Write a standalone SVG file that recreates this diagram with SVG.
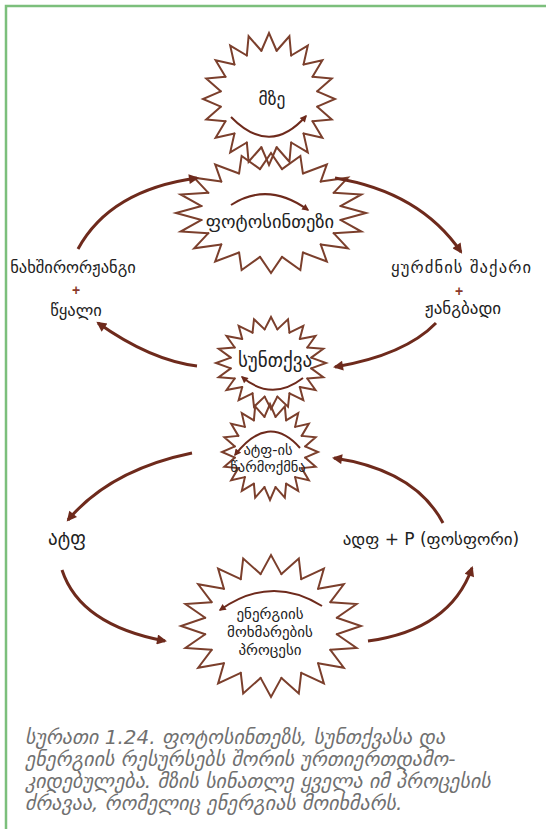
<svg xmlns="http://www.w3.org/2000/svg" xmlns:xlink="http://www.w3.org/1999/xlink" width="546" height="829" viewBox="0 0 546 829">
<style>
.lbl{font-family:"DejaVu Sans","Noto Sans",sans-serif;fill:#222;text-anchor:middle}
.plus{font-family:"Liberation Sans",sans-serif;fill:#8b3a2a;font-weight:bold;text-anchor:middle;font-size:14px}
.cap{font-family:"DejaVu Sans","Noto Sans",sans-serif;font-style:italic;fill:#707070;font-size:20px}
.arr{fill:none;stroke:#6e2a1c;stroke-width:3;marker-end:url(#ah)}
.arc{fill:none;stroke:#6e2a1c;stroke-width:2;marker-end:url(#ahs)}
</style>
<defs>
<marker id="ah" viewBox="0 0 10 10" refX="8" refY="5" markerUnits="userSpaceOnUse" markerWidth="15" markerHeight="10" orient="auto"><path d="M0,0 L10,5 L0,10 Z" fill="#6e2a1c"/></marker>
<marker id="ahs" viewBox="0 0 10 10" refX="8" refY="5" markerUnits="userSpaceOnUse" markerWidth="10" markerHeight="7" orient="auto"><path d="M0,0 L10,5 L0,10 Z" fill="#6e2a1c"/></marker>
<polyline id="sp" points="-0.1157,-0.7309 0,-1 0.1157,-0.7309" fill="none" stroke="#7b3f2c" stroke-width="2" stroke-linecap="round" stroke-linejoin="miter" vector-effect="non-scaling-stroke"/>
<g id="sp4"><use xlink:href="#sp"/><use xlink:href="#sp" transform="rotate(18)"/><use xlink:href="#sp" transform="rotate(36)"/><use xlink:href="#sp" transform="rotate(54)"/></g>
<g id="star"><use xlink:href="#sp4"/><use xlink:href="#sp4" transform="rotate(72)"/><use xlink:href="#sp4" transform="rotate(144)"/><use xlink:href="#sp4" transform="rotate(216)"/><use xlink:href="#sp4" transform="rotate(288)"/></g>
</defs>
<rect width="546" height="829" fill="#fff"/>
<g id="border" fill="none" stroke="#7cbf7c" stroke-width="2.5"><path d="M6,829 V6 H546"/></g>

<g id="sun"><use xlink:href="#star" transform="translate(269,99) scale(66,66)"/><text class="lbl" x="272" y="105" font-size="17.5">მზე</text></g>
<g id="photosynthesis"><use xlink:href="#star" transform="translate(271,213) scale(95,60)"/><text class="lbl" x="270" y="228" font-size="18.5">ფოტოსინთეზი</text></g>
<g id="respiration"><use xlink:href="#star" transform="translate(271,363) scale(55,46)"/><text class="lbl" x="275" y="367" font-size="19">სუნთქვა</text></g>
<g id="atp-formation"><use xlink:href="#star" transform="translate(270,452) scale(48,48)"/><text class="lbl" x="268" y="455" font-size="14.5">ატფ-ის</text><text class="lbl" x="268" y="472" font-size="14.5">წარმოქმნა</text></g>
<g id="energy-use"><use xlink:href="#star" transform="translate(271,626) scale(90,71)"/><text class="lbl" x="270" y="619" font-size="15">ენერგიის</text><text class="lbl" x="270" y="637" font-size="15">მოხმარების</text><text class="lbl" x="270" y="655" font-size="15">პროცესი</text></g>

<g id="co2-water"><text class="lbl" x="73" y="273" font-size="16.5">ნახშირორჟანგი</text><text class="plus" x="76" y="295">+</text><text class="lbl" x="76" y="316" font-size="16.5">წყალი</text></g>
<g id="glucose-oxygen"><text class="lbl" x="461" y="273" font-size="16.5" textLength="140" lengthAdjust="spacing">ყურძნის შაქარი</text><text class="plus" x="459" y="296">+</text><text class="lbl" x="463" y="314" font-size="17">ჟანგბადი</text></g>
<g id="atp"><text class="lbl" x="67" y="545" font-size="19">ატფ</text></g>
<g id="adp"><text class="lbl" x="431" y="545" font-size="17">ადფ + P (ფოსფორი)</text></g>

<g id="connectors">
<path class="arr" d="M78,249 Q110,190 197,178"/>
<path class="arr" d="M197,366 Q150,360 98,323"/>
<path class="arr" d="M335,178 Q420,192 461,252"/>
<path class="arr" d="M436,323 Q405,355 335,367"/>
<path class="arr" d="M192,453 Q110,470 68,520"/>
<path class="arr" d="M443,523 Q415,470 334,458"/>
<path class="arr" d="M62,570 Q80,625 165,641"/>
<path class="arr" d="M368,641 Q450,630 472,568"/>
<path class="arc" d="M231,117 Q270,157 306,116"/>
<path class="arc" d="M231,205 Q268,181 308,210"/>
<path class="arc" d="M303,378 Q272,402 242,377"/>
<path class="arc" d="M300,448 Q268,412 235,455"/>
<path class="arc" d="M322,606 Q271,574 220,610"/>
</g>

<g id="caption">
<text class="cap" x="25" y="744">სურათი 1.24. ფოტოსინთეზს, სუნთქვასა და</text>
<text class="cap" x="25" y="766">ენერგიის რესურსებს შორის ურთიერთდამო-</text>
<text class="cap" x="25" y="788">კიდებულება. მზის სინათლე ყველა იმ პროცესის</text>
<text class="cap" x="25" y="810">ძრავაა, რომელიც ენერგიას მოიხმარს.</text>
</g>
</svg>
